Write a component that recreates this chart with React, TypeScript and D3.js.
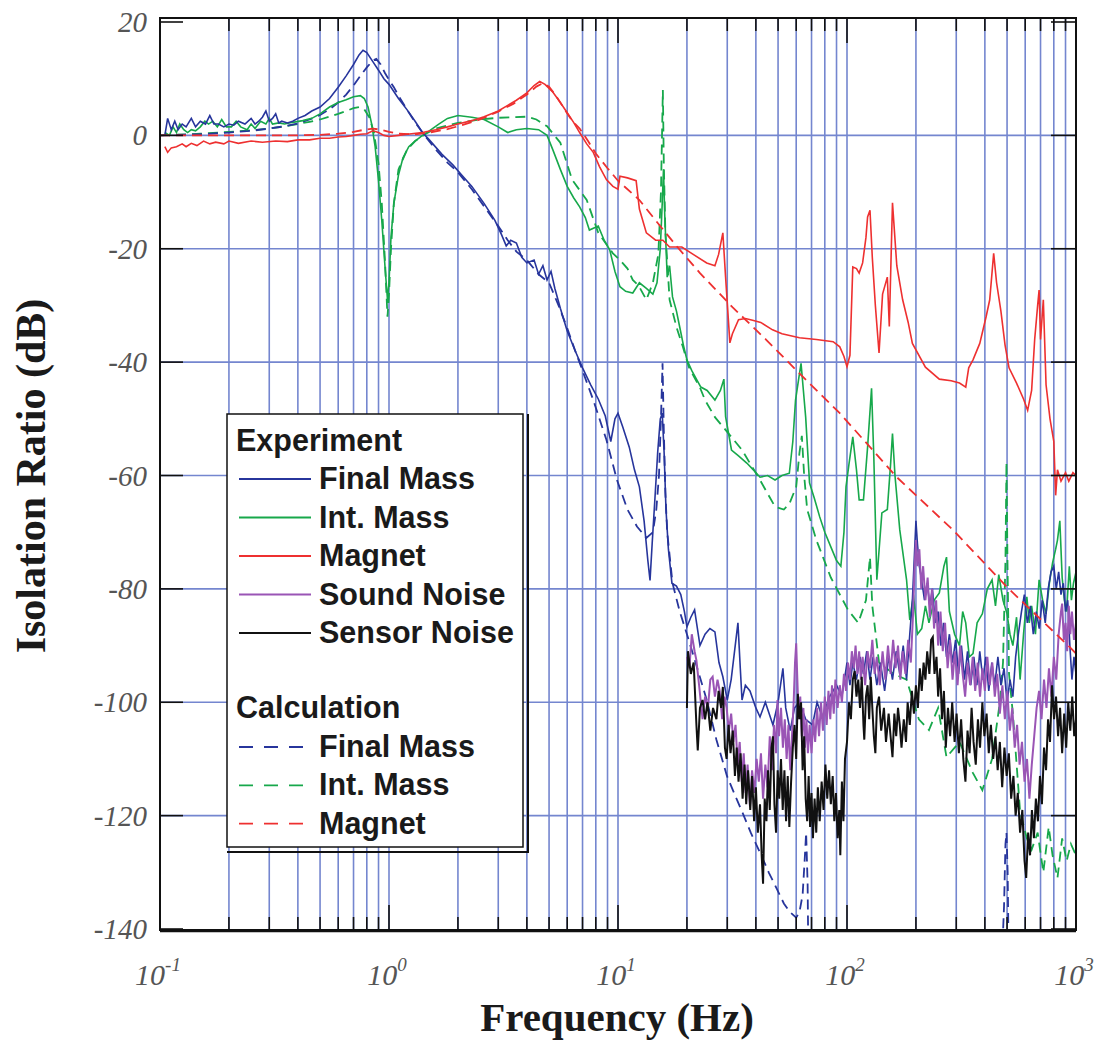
import React from 'react';
import * as d3 from 'd3';

type P = [number, number];

// ---------- axis / legend text ----------
const yTickValues = [20, 0, -20, -40, -60, -80, -100, -120, -140];
const yGridValues = [0, -20, -40, -60, -80, -100, -120];
const xDecadeExponents = [-1, 0, 1, 2, 3];
const xTitle = 'Frequency (Hz)';
const yTitle = 'Isolation Ratio (dB)';
const experimentTitle = 'Experiment';
const calculationTitle = 'Calculation';
const experimentLabels = ['Final Mass', 'Int. Mass', 'Magnet', 'Sound Noise', 'Sensor Noise'];
const calculationLabels = ['Final Mass', 'Int. Mass', 'Magnet'];

// ---------- data: [frequency Hz, isolation dB] ----------
const finalMassExp: P[] = [
  [0.105, 0], [0.108, 3], [0.112, 1], [0.116, 2.5], [0.12, 1], [0.125, 2], [0.13, 1.5], [0.137, 3], [0.143, 1.5],
  [0.15, 2.5], [0.158, 2], [0.165, 3.5], [0.172, 2], [0.18, 2], [0.19, 1.5], [0.2, 2], [0.21, 1.8], [0.22, 2.5],
  [0.235, 2], [0.25, 3], [0.26, 2], [0.27, 2.5], [0.28, 3.2], [0.29, 4.3], [0.3, 2.5], [0.31, 3], [0.32, 3.8],
  [0.33, 2.2], [0.34, 2.5], [0.36, 2.2], [0.38, 2.5], [0.4, 3], [0.43, 3.5], [0.46, 4.3], [0.5, 5], [0.55, 6.5],
  [0.6, 8.5], [0.65, 10.5], [0.7, 12.5], [0.74, 14.2], [0.77, 15], [0.8, 14.6], [0.85, 13], [0.9, 11.5], [0.95, 10],
  [1.0, 9], [1.1, 6.5], [1.2, 4.5], [1.3, 2.5], [1.4, 0.5], [1.5, -0.8], [1.7, -3.3], [1.9, -5.2], [2.1, -7.2],
  [2.3, -9], [2.6, -12], [2.9, -15], [3.1, -17.5], [3.25, -19.5], [3.4, -18.5], [3.6, -19], [3.8, -21.5], [4.0, -22.5],
  [4.3, -22], [4.5, -24.5], [4.7, -23], [4.9, -25.5], [5.1, -24], [5.3, -27], [5.6, -30.5], [6.0, -34.5], [6.5, -38],
  [7.0, -41], [7.6, -44], [8.2, -46.5], [8.8, -49.5], [9.3, -54], [9.7, -50], [10.0, -49], [10.5, -51.5], [11.2, -55],
  [11.8, -59], [12.4, -62], [13.0, -68], [13.5, -75], [13.8, -78.5], [14.1, -72], [14.5, -64], [14.9, -56], [15.3, -50],
  [15.6, -49], [15.9, -56], [16.2, -66], [16.6, -73], [17.2, -79], [18, -79.5], [18.8, -81], [19.5, -84], [20, -86.7],
  [20.8, -85], [21.6, -83.7], [22.8, -90], [24, -88], [25.2, -87], [26.5, -87.6], [27.6, -93], [28.7, -95.5], [30, -99.6],
  [31.2, -96], [32.5, -90], [33.4, -86], [34.2, -94], [34.8, -99.6], [36, -97], [37.7, -98], [40, -101], [41.7, -102.6],
  [44, -100], [47.5, -104], [50, -100], [52.5, -94], [54, -101], [56.5, -105], [59, -101], [62, -100], [66, -103],
  [70.7, -104], [74, -100], [78, -102.6], [84, -99], [90, -97], [95, -99], [100, -93], [103, -97], [106, -93], [110, -96],
  [114, -92], [118, -95], [122, -91], [126, -96], [130, -92], [135, -97], [140, -93], [146, -98], [152, -92], [158, -96],
  [164, -91], [170, -95], [176, -90], [182, -96], [188, -88], [193, -82], [197, -74], [200, -68], [203, -72], [207, -76],
  [212, -78.6], [218, -82], [224, -79], [230, -83], [236, -80], [243, -86], [250, -84], [257, -90], [264, -86], [272, -92],
  [280, -88], [289, -93], [298, -89], [307, -95], [316, -90], [326, -96], [336, -91], [347, -97], [358, -92], [369, -97],
  [380, -91], [392, -96], [404, -92], [416, -98], [429, -93], [442, -97], [456, -92], [470, -97], [485, -94], [500, -100],
  [515, -96], [530, -99], [545, -92], [560, -88], [578, -84], [595, -81], [613, -86], [632, -83], [651, -88], [671, -84],
  [691, -87], [712, -82], [734, -86], [756, -80], [778, -77], [800, -76], [820, -80], [840, -77], [860, -81], [880, -79],
  [900, -84], [920, -82], [940, -90], [960, -96], [980, -92], [1000, -95],
];

const finalMassCalc: P[] = [
  [0.1, 0], [0.15, 0.2], [0.2, 0.5], [0.25, 0.8], [0.3, 1.2], [0.35, 1.6], [0.4, 2.1], [0.45, 2.8], [0.5, 3.6],
  [0.55, 4.6], [0.6, 5.8], [0.65, 7.2], [0.7, 8.8], [0.75, 10.5], [0.8, 12], [0.85, 13.2], [0.88, 13.5], [0.92, 12.5],
  [0.96, 11], [1.0, 9.8], [1.05, 8.5], [1.1, 7], [1.2, 4.5], [1.3, 2.3], [1.4, 0.5], [1.6, -2.5], [1.8, -4.8],
  [2.0, -6.5], [2.3, -9.5], [2.6, -12.5], [3.0, -16], [3.3, -18.5], [3.6, -20.5], [4.0, -22], [4.5, -24.5], [5.0, -26],
  [5.5, -30], [6.0, -34], [6.5, -38], [7.0, -41.5], [7.8, -46.7], [8.9, -53.7], [9.9, -60.8], [11, -66], [12.1, -69],
  [13.3, -71], [14.2, -70], [14.7, -66], [15.1, -60], [15.4, -50], [15.65, -40.2], [15.85, -52], [16.1, -63], [16.4, -70],
  [17.3, -79], [18.6, -84], [20, -88], [22, -93.5], [24.4, -99.6], [26.9, -106.6], [29.9, -113], [32.5, -116.5],
  [35, -119.5], [38, -123], [41.8, -126.6], [45.5, -130], [49.5, -133], [53, -135.5], [56.3, -137], [60, -138],
  [62, -137], [64, -134], [65.3, -128], [66.3, -123], [67.3, -132], [68, -150], [470, -150], [485, -136], [492, -125],
  [497, -123], [503, -130], [510, -150],
];

const intMassExp: P[] = [
  [0.105, 0.5], [0.11, 0], [0.114, 1.5], [0.118, 0.5], [0.122, 2], [0.127, 1], [0.132, 0.5], [0.137, 1], [0.143, 0.8],
  [0.15, 1.5], [0.157, 2.5], [0.163, 2], [0.17, 2.5], [0.178, 1.5], [0.186, 2.8], [0.195, 1.5], [0.205, 1.5], [0.215, 2.5],
  [0.225, 1.5], [0.24, 1], [0.25, 2], [0.26, 1.2], [0.275, 2.5], [0.29, 2], [0.3, 3], [0.31, 2], [0.33, 2.2], [0.35, 2],
  [0.38, 2.3], [0.42, 2.6], [0.46, 3], [0.5, 3.8], [0.55, 5], [0.6, 5.8], [0.65, 6.3], [0.7, 6.8], [0.75, 7], [0.78, 6.5],
  [0.81, 5], [0.84, 2], [0.87, -2], [0.9, -8], [0.93, -15], [0.96, -23], [0.985, -29], [1.0, -26], [1.02, -18],
  [1.05, -12], [1.1, -7], [1.15, -4], [1.22, -2], [1.3, -1], [1.4, 0], [1.5, 0.8], [1.65, 2], [1.8, 3], [2.0, 3.5],
  [2.3, 3.2], [2.6, 2.8], [3.0, 1.5], [3.3, 0.5], [3.6, 1], [4.0, 1.2], [4.5, 1], [4.9, 0], [5.2, -2.6], [5.6, -6],
  [6.0, -9], [6.4, -11], [6.8, -12.6], [7.2, -14.5], [7.5, -16.7], [8.2, -16], [8.7, -18.5], [9.2, -20.2], [9.7, -24],
  [10.2, -26.7], [10.8, -27.5], [11.6, -27.8], [12.4, -26], [13.3, -27], [14.2, -28], [14.8, -26], [15.3, -20],
  [15.6, -12], [15.8, -6], [16.0, -14], [16.4, -25], [16.8, -23], [17.3, -28.5], [18.0, -31], [18.6, -33.8], [19.3, -37],
  [20, -39.6], [21, -41.5], [22, -43], [23, -44.4], [24.5, -45], [26.5, -46.7], [28, -45], [29, -43], [29.5, -49.6],
  [31.3, -55.5], [33.5, -56.5], [36.5, -57.8], [39, -59], [41.7, -60.3], [45, -60], [48.5, -60.8], [52, -60],
  [56, -59.6], [58, -54], [59.6, -46.7], [61.5, -43], [63, -40.2], [64.5, -45], [66, -49.7], [68.6, -61.3], [72, -64],
  [76, -67.3], [80, -70], [85, -72.6], [90, -75], [94, -76], [97, -70], [99, -62], [102, -58], [106, -53.2], [110, -59],
  [113, -64.3], [118, -64.3], [123, -55], [128, -44.6], [131, -57], [135, -78.4], [142, -66.6], [150, -66], [155, -58],
  [158, -52.6], [162, -60], [170, -69.6], [182, -78.4], [188, -85.5], [195, -81], [203, -88], [212, -87], [220, -83],
  [228, -86], [240, -82], [253, -80.7], [265, -76], [272, -74.4], [280, -84], [295, -88], [310, -90], [320, -84],
  [330, -86], [342, -92], [355, -91.4], [370, -86], [390, -84.4], [410, -80], [430, -78.4], [445, -83], [460, -77.5],
  [480, -82], [500, -84.4], [515, -88], [530, -90], [550, -85], [570, -96], [590, -88], [610, -81.4], [625, -86],
  [640, -83], [665, -88], [690, -78.4], [715, -82], [740, -84.4], [765, -79], [790, -75.4], [815, -73], [830, -71.4],
  [850, -68], [870, -78], [890, -82], [910, -84], [935, -76], [955, -82], [975, -79], [1000, -77],
];

const intMassCalc: P[] = [
  [0.1, 0], [0.15, 0.3], [0.2, 0.6], [0.25, 0.9], [0.3, 1.2], [0.35, 1.6], [0.4, 2], [0.45, 2.4], [0.5, 2.8], [0.55, 3.3],
  [0.6, 3.8], [0.65, 4.3], [0.7, 4.8], [0.74, 5], [0.78, 4.6], [0.82, 3.2], [0.86, 0.5], [0.9, -5], [0.93, -12],
  [0.96, -22], [0.985, -32], [1.0, -28], [1.02, -20], [1.05, -12], [1.1, -6], [1.2, -2.5], [1.3, -1], [1.45, 0.3],
  [1.6, 1.2], [2.0, 2.2], [2.5, 2.8], [3.0, 3.1], [3.5, 3.2], [4.0, 3.3], [4.4, 2.8], [4.9, 1.6], [5.6, -1.3],
  [6.3, -7.8], [7.3, -11.4], [8.2, -17.2], [9.5, -20.8], [10.2, -22], [11, -23.5], [11.6, -25.5], [12.3, -26.5],
  [13.3, -29], [14.2, -26], [15, -21], [15.4, -10], [15.6, 2], [15.7, 8], [15.85, -5], [16.1, -17], [16.8, -29],
  [18, -33.8], [19.2, -37.3], [20.4, -40.9], [22.8, -44.5], [24, -46.7], [26.5, -49.7], [30.4, -52.6], [34.8, -55.5],
  [41.7, -60.8], [48.5, -65.5], [53, -66], [56, -65], [60, -62], [62, -56], [63.5, -53], [65, -60], [67, -66],
  [73.5, -71.4], [85, -78], [101, -83.7], [112, -86], [121, -82], [126, -74.4], [129, -83], [138, -93], [160, -95],
  [182, -96], [206, -103], [228, -104.9], [250, -101], [272, -109.7], [310, -107], [355, -112.5], [390, -115.5],
  [430, -110], [465, -100], [480, -93], [492, -75], [497, -57.7], [502, -75], [510, -95], [530, -102], [570, -119.3],
  [610, -124], [640, -126], [680, -123], [720, -130], [760, -122], [790, -127], [830, -131], [870, -124], [910, -128],
  [950, -125], [1000, -127],
];

const magnetExp: P[] = [
  [0.105, -2], [0.108, -3], [0.112, -2.2], [0.118, -2], [0.125, -1.5], [0.13, -2], [0.137, -1.4], [0.145, -1.8],
  [0.155, -1], [0.165, -1.5], [0.175, -1.2], [0.19, -1.5], [0.2, -1], [0.22, -1.4], [0.25, -1], [0.28, -1.2],
  [0.32, -1], [0.36, -1.1], [0.4, -0.8], [0.45, -0.8], [0.5, -0.5], [0.55, -0.5], [0.6, -0.3], [0.65, -0.2], [0.7, 0],
  [0.75, 0.2], [0.8, 0.3], [0.85, 0.8], [0.9, 0.5], [0.95, 0], [1.0, -0.2], [1.1, 0], [1.2, 0.2], [1.4, 0.5], [1.6, 1],
  [1.8, 1.5], [2.0, 2], [2.3, 2.6], [2.6, 3.3], [3.0, 4.3], [3.3, 5.3], [3.6, 6.2], [4.0, 7.5], [4.3, 8.8], [4.55, 9.5],
  [4.8, 9], [5.2, 7.6], [5.6, 5.8], [6.0, 4], [6.4, 2.3], [6.8, 0.5], [7.3, -1.5], [7.8, -3], [8.3, -5.5], [8.9, -7.8],
  [9.5, -9], [10.0, -9.5], [10.2, -7.2], [11, -7.5], [12, -8], [12.4, -13], [13.3, -17.2], [14.6, -18.5], [15.7, -18.5],
  [16.8, -19.7], [19, -19.7], [21.3, -21], [24.4, -22.5], [26.5, -23], [27.5, -21], [28.7, -17.2], [29.5, -25],
  [30.8, -36.6], [31.6, -35], [33.6, -32.5], [36, -32.3], [38.7, -32.6], [42, -33], [47.3, -34.3], [52, -35],
  [62, -35.7], [73.5, -36], [87, -36.4], [93, -37.3], [97, -39], [100, -40.8], [103, -38.8], [106, -23.2], [110, -23.5],
  [113, -24.3], [117, -22.5], [121, -18], [123, -14.4], [126, -13.2], [129, -21.6], [133, -30], [138, -38.4], [143, -28],
  [150, -25], [153, -33.7], [158, -11.9], [165, -23], [175, -29], [185, -33], [193, -36.7], [220, -40.9], [253, -43],
  [285, -43.3], [310, -43.7], [330, -44.4], [340, -41], [355, -39.6], [380, -36.7], [405, -32], [420, -29], [437, -20.8],
  [450, -26], [470, -31], [490, -37], [510, -41], [550, -43.7], [590, -46.5], [615, -48.5], [640, -45], [660, -36],
  [680, -30], [690, -27.3], [700, -36], [720, -29], [740, -44], [770, -50], [800, -54], [815, -63.5], [830, -59],
  [860, -61], [900, -59.5], [930, -61], [970, -59.5], [1000, -60],
];

const magnetCalc: P[] = [
  [0.1, 0], [0.2, 0], [0.3, 0], [0.4, 0], [0.5, 0.1], [0.6, 0.3], [0.7, 0.6], [0.78, 1], [0.85, 1.2], [0.92, 1],
  [1.0, 0.6], [1.1, 0.3], [1.3, 0.2], [1.5, 0.5], [1.8, 1.1], [2.0, 1.6], [2.5, 2.8], [3.0, 4.2], [3.5, 5.6], [4.0, 7.2],
  [4.4, 8.6], [4.7, 9.2], [5.0, 8.6], [5.4, 6.8], [5.8, 4.8], [6.3, 2.6], [6.8, 1.2], [7.4, -1], [8.0, -3.2], [9.0, -5.8],
  [10, -8], [12.4, -11.4], [14.6, -15], [18, -19.5], [22.8, -24.3], [31.6, -30.3], [44.5, -36.1], [62, -42], [93, -49],
  [165, -60.3], [290, -69.6], [500, -79.7], [935, -90.2], [1000, -91.4],
];

const soundNoise: P[] = [
  [20, -92], [20.5, -94], [21, -88], [21.6, -91], [22, -92.6], [22.6, -97], [23.4, -103], [24, -99], [24.7, -101],
  [25.3, -96], [25.9, -95.5], [26.5, -99], [27.2, -96], [27.8, -98], [28.5, -103], [29.2, -99], [29.8, -101], [30.5, -105],
  [31.2, -102], [31.9, -107], [32.6, -104], [33.3, -111], [34, -107], [34.7, -114], [35.4, -109], [36.1, -116],
  [36.8, -111], [37.7, -118.4], [38.5, -112], [39.4, -116], [40.3, -110], [41.2, -114], [42.1, -109], [43, -117],
  [44, -111], [45, -115], [46, -106], [47, -112], [48, -104], [49, -109], [49.7, -99.6], [50.5, -106], [51.5, -101],
  [52.5, -108], [53.5, -103], [54.5, -110], [55.5, -104], [56.5, -112], [57.5, -106], [58.5, -100], [59.3, -93],
  [60, -89.6], [60.7, -96], [61.5, -103], [62.5, -99], [63.5, -106], [64.5, -101], [65.5, -108], [66.5, -103],
  [67.5, -109], [68.7, -104], [70, -109], [71.3, -103], [72.6, -107], [74, -101], [75.5, -106], [77, -100], [78.5, -105],
  [80, -99], [81.5, -104], [83, -98], [84.5, -103], [86, -97], [87.5, -102], [89, -96], [91, -101], [93, -97], [95, -100],
  [97, -95], [99, -98], [101, -93], [103, -96], [105, -91], [107, -94], [109, -90], [111, -95], [113, -91], [115, -96],
  [117, -92], [120, -97], [123, -91], [126, -94], [129, -89], [132, -95], [135, -92], [139, -97], [143, -91], [147, -96],
  [151, -90], [155, -95], [159, -89], [163, -94], [167, -90], [171, -96], [175, -91], [180, -95], [185, -89], [190, -93],
  [194, -85], [197, -77], [200, -71.4], [203, -76], [207, -73], [211, -80], [215, -76], [220, -82], [225, -78], [230, -85],
  [235, -80], [240, -87], [245, -82], [250, -90], [256, -84], [262, -91], [268, -86], [275, -94], [282, -89], [289, -96],
  [296, -91], [304, -97], [312, -90], [320, -95], [328, -99], [336, -93], [345, -97], [354, -92], [363, -98], [372, -93],
  [381, -99], [390, -94], [400, -98], [410, -92], [420, -97], [431, -93], [442, -99], [453, -95], [465, -102], [477, -97],
  [489, -103], [501, -98], [514, -105], [527, -101], [540, -108], [553, -104], [567, -111], [581, -107], [596, -114],
  [611, -110], [626, -117], [641, -111], [657, -106], [673, -101], [690, -98], [707, -103], [725, -96], [743, -101],
  [762, -94], [781, -99], [800, -92], [820, -96], [840, -88], [860, -84], [870, -82.6], [885, -89], [900, -86],
  [915, -91], [930, -83], [945, -88], [960, -84], [980, -89], [1000, -86],
];

const sensorNoise: P[] = [
  [20, -101], [20.2, -91], [20.8, -95], [21.4, -93], [22, -104], [22.3, -108.5], [22.8, -101], [23.4, -99.6], [24, -103],
  [24.6, -100], [25.3, -105], [26, -101], [26.9, -103], [27.5, -98], [28.2, -101], [28.7, -97.3], [29.3, -108],
  [29.8, -110], [30.4, -104], [31, -109], [31.7, -105], [32.4, -113], [33, -108], [33.6, -114], [34.3, -109], [35, -117],
  [35.7, -111], [36.3, -118], [37, -112], [37.8, -119], [38.5, -113], [39.3, -121], [40, -115], [40.8, -123],
  [41.7, -118], [42.4, -127], [43, -132], [43.7, -117], [44.5, -121], [45.2, -112], [46, -119], [46.8, -108],
  [47.5, -106], [48.2, -118], [49, -123], [49.8, -112], [50.6, -117], [51.5, -110], [52.4, -119], [53.3, -112],
  [54.2, -121], [55.1, -113], [56, -122], [57, -114], [58, -108], [59, -104], [60, -110], [61, -98.5], [62, -103],
  [63, -100], [64, -112], [65, -106], [66, -117], [67, -121], [68, -113], [69, -122], [70, -116], [71, -124],
  [72.2, -117], [73.4, -123], [74.6, -115], [76, -121], [77.5, -114], [79, -119], [80.5, -111], [82, -117], [83.5, -112],
  [85, -118], [86.6, -113], [88, -121], [89.5, -116], [91, -124], [92.5, -119], [93.5, -127], [95, -114], [96.5, -121],
  [98, -110], [100, -107], [102, -100], [104, -103], [106, -96], [108, -94.5], [110, -99], [112, -96], [114, -101],
  [116, -95.5], [118, -104], [119, -106.6], [121, -99], [123, -97], [125, -103], [127, -95.5], [129, -101], [131, -106],
  [133, -109], [135, -101], [138, -99], [141, -105], [145, -101], [148, -107], [152, -102], [155, -106], [158, -109.7],
  [161, -102], [164, -106], [167, -101], [170, -104], [173, -108], [177, -103], [181, -107], [184, -100], [188, -104],
  [192, -98], [196, -102], [200, -97], [204, -101], [208, -94], [212, -98], [216, -93], [220, -96], [224, -91],
  [229, -95], [233, -89], [237, -88.5], [241, -95], [246, -92], [250, -99], [255, -94], [260, -103], [265, -98],
  [270, -108], [276, -101], [282, -106], [288, -100], [295, -107], [301, -102], [308, -109], [315, -103], [322, -110],
  [329, -114], [336, -105], [343, -109], [350, -101], [357, -107], [365, -111], [373, -103], [381, -108], [390, -100],
  [398, -106], [407, -102], [416, -109], [425, -104], [435, -110], [445, -106], [455, -112], [465, -107], [476, -115],
  [487, -108], [498, -113], [509, -109], [521, -117], [533, -113], [545, -120], [557, -116], [570, -123], [583, -119],
  [596, -128], [606, -131], [618, -123], [630, -127], [642, -119], [655, -124], [668, -117], [682, -121], [696, -113],
  [710, -118], [725, -108], [740, -112], [755, -103], [770, -107], [786, -97], [802, -103], [818, -99], [835, -106],
  [852, -101], [870, -109], [888, -102], [906, -108], [925, -100], [944, -105], [963, -99], [982, -106], [1000, -103],
];

// ---------- layout ----------
const W = 1096;
const H = 1051;
const L = 160;
const R = 1076;
const T = 22;
const B = 929;

const GRID = '#7486cf';
const BLUE = '#27359c';
const GREEN = '#17a84b';
const RED = '#ee3030';
const PURPLE = '#9a55b5';
const BLACK = '#111111';

const SERIF = "'Liberation Serif', 'Times New Roman', serif";
const SANS = "'Liberation Sans', Arial, Helvetica, sans-serif";

export default function App() {
  const x = d3.scaleLog().domain([0.1, 1000]).range([L, R]);
  const y = d3.scaleLinear().domain([-140, 20]).range([B, T]);
  const line = d3.line<P>().x((d) => x(d[0])).y((d) => y(d[1]));
  const allTicks = x.ticks();
  const inner = allTicks.filter((t) => t > 0.1 * 1.0001 && t < 1000 / 1.0001);
  const isDecade = (t: number) => Math.abs(Math.log10(t) - Math.round(Math.log10(t))) < 1e-6;

  const series = [
    { d: intMassCalc, c: GREEN, dash: '10,6', w: 1.8 },
    { d: finalMassCalc, c: BLUE, dash: '10,6', w: 1.8 },
    { d: intMassExp, c: GREEN, dash: undefined, w: 1.6 },
    { d: finalMassExp, c: BLUE, dash: undefined, w: 1.6 },
    { d: soundNoise, c: PURPLE, dash: undefined, w: 2 },
    { d: sensorNoise, c: BLACK, dash: undefined, w: 2 },
    { d: magnetExp, c: RED, dash: undefined, w: 1.6 },
    { d: magnetCalc, c: RED, dash: '10,6', w: 1.8 },
  ];

  const frameTop = 18;
  const frameBottom = 930;

  const expColors = [BLUE, GREEN, RED, PURPLE, BLACK];
  const calcColors = [BLUE, GREEN, RED];
  const legendFont = 30.5;

  return (
    <svg
      width={W}
      height={H}
      style={{ position: 'absolute', left: 0, top: 0, background: '#fff' }}
    >
      <defs>
        <clipPath id="plotClip">
          <rect x={L} y={frameTop} width={R - L} height={frameBottom - frameTop} />
        </clipPath>
      </defs>
      <rect x={0} y={0} width={W} height={H} fill="#fff" />

      {/* grid */}
      {inner.map((t, i) => (
        <line key={'gv' + i} x1={x(t)} x2={x(t)} y1={frameTop} y2={frameBottom} stroke={GRID} strokeWidth={1.6} />
      ))}
      {yGridValues.map((v) => (
        <line key={'gh' + v} x1={L} x2={R} y1={y(v)} y2={y(v)} stroke={GRID} strokeWidth={1.6} />
      ))}

      {/* data */}
      <g clipPath="url(#plotClip)" fill="none" strokeLinejoin="miter">
        {series.map((s, i) => (
          <path key={'s' + i} d={line(s.d) || ''} stroke={s.c} strokeWidth={s.w} strokeDasharray={s.dash} />
        ))}
      </g>

      {/* ticks */}
      {allTicks.map((t, i) => {
        const len = isDecade(t) ? 25 : 13;
        return (
          <g key={'tk' + i} stroke="#111" strokeWidth={1.6}>
            <line x1={x(t)} x2={x(t)} y1={frameTop} y2={frameTop + len} />
            <line x1={x(t)} x2={x(t)} y1={frameBottom} y2={frameBottom - len} />
          </g>
        );
      })}
      {yTickValues.map((v) => (
        <g key={'yt' + v} stroke="#111" strokeWidth={1.6}>
          <line x1={L} x2={L + 23} y1={y(v)} y2={y(v)} />
          <line x1={R} x2={R - 25} y1={y(v)} y2={y(v)} />
        </g>
      ))}

      {/* frame */}
      <rect x={L} y={frameTop} width={R - L} height={frameBottom - frameTop} fill="none" stroke="#111" strokeWidth={2} />
      <line x1={L} x2={R} y1={frameBottom + 1.5} y2={frameBottom + 1.5} stroke="#111" strokeWidth={1.5} />

      {/* y tick labels */}
      {yTickValues.map((v) => (
        <text
          key={'yl' + v}
          x={147}
          y={y(v) + 10}
          textAnchor="end"
          fontFamily={SERIF}
          fontStyle="italic"
          fontSize={29}
          fill="#555"
        >
          {v}
        </text>
      ))}

      {/* x tick labels */}
      {xDecadeExponents.map((e) => (
        <text
          key={'xl' + e}
          x={x(Math.pow(10, e)) - 2}
          y={985}
          textAnchor="middle"
          fontFamily={SERIF}
          fontStyle="italic"
          fontSize={30}
          fill="#555"
        >
          10
          <tspan dy={-14} fontSize={19}>
            {e}
          </tspan>
        </text>
      ))}

      {/* axis titles */}
      <text x={617} y={1031} textAnchor="middle" fontFamily={SERIF} fontWeight="bold" fontSize={41} fill="#1a1a1a">
        {xTitle}
      </text>
      <text
        transform="translate(45,476) rotate(-90)"
        textAnchor="middle"
        fontFamily={SERIF}
        fontWeight="bold"
        fontSize={42}
        fill="#1a1a1a"
      >
        {yTitle}
      </text>

      {/* legend */}
      <g>
        <rect x={227} y={414} width={296} height={433} fill="#fff" stroke="#111" strokeWidth={1.5} />
        <path d="M227,852 H528 V414" fill="none" stroke="#111" strokeWidth={2} />
        <text x={236} y={451} fontFamily={SANS} fontWeight="bold" fontSize={legendFont} fill="#1a1a1a">
          {experimentTitle}
        </text>
        {experimentLabels.map((lab, i) => {
          const by = 489 + i * 38.5;
          return (
            <g key={'le' + i}>
              <line x1={239} x2={311} y1={by - 10} y2={by - 10} stroke={expColors[i]} strokeWidth={1.8} />
              <text x={319} y={by} fontFamily={SANS} fontWeight="bold" fontSize={legendFont} fill="#1a1a1a">
                {lab}
              </text>
            </g>
          );
        })}
        <text x={236} y={718} fontFamily={SANS} fontWeight="bold" fontSize={legendFont} fill="#1a1a1a">
          {calculationTitle}
        </text>
        {calculationLabels.map((lab, i) => {
          const by = 757 + i * 38.3;
          return (
            <g key={'lc' + i}>
              <line
                x1={239}
                x2={306}
                y1={by - 10}
                y2={by - 10}
                stroke={calcColors[i]}
                strokeWidth={1.8}
                strokeDasharray="14,11"
              />
              <text x={319} y={by} fontFamily={SANS} fontWeight="bold" fontSize={legendFont} fill="#1a1a1a">
                {lab}
              </text>
            </g>
          );
        })}
      </g>
    </svg>
  );
}
